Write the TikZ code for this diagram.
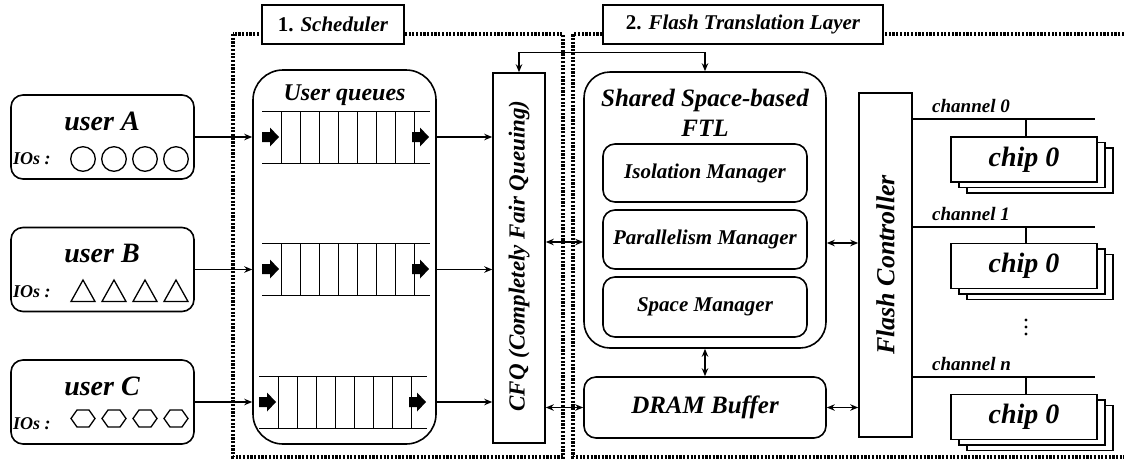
\documentclass[tikz,border=0pt]{standalone}
\usepackage{fontspec}
\setmainfont{Liberation Serif}
\usetikzlibrary{arrows.meta,calc}
\begin{document}
\begin{tikzpicture}[x=1pt,y=-1pt,
  rbox/.style={draw, line width=1.6pt, rounded corners=#1, inner sep=0pt},
  rbox/.default=11pt,
  sbox/.style={draw, line width=1.6pt, inner sep=0pt},
  lbl/.style={draw, fill=white, line width=1.6pt, inner sep=0pt, font=\fontsize{21}{24}\selectfont\bfseries},
  bi/.style={font=\fontsize{#1}{#1}\selectfont\bfseries\itshape, inner sep=0pt},
  arr/.style={-{Stealth[length=8pt,width=6.5pt]}, line width=1.3pt},
  darr/.style={{Stealth[length=8pt,width=6.5pt]}-{Stealth[length=8pt,width=6.5pt]}, line width=1.3pt},
  dotline/.style={line width=3.2pt, dash pattern=on 2.2pt off 1.5pt},
  qline/.style={line width=1pt},
  ioshape/.style={line width=1.3pt},
]
\useasboundingbox (0,0) rectangle (1124,459);

% dotted regions
\draw[dotline] (233,34) rectangle (563,457);
\draw[dotline] (1124,34) -- (573,34) -- (573,457) -- (1124,457);
\node[lbl, minimum width=142pt, minimum height=39pt] (lsch) at (333,24.5) {1. \textit{Scheduler}};
\node[lbl, minimum width=280pt, minimum height=39pt] (lftl) at (743,24.5) {2. \textit{Flash Translation Layer}};

% users
\foreach \n/\c in {A/137, B/269.5, C/402}{
  \node[rbox=12pt, minimum width=183pt, minimum height=84pt] (u\n) at (102.5,\c) {};
  \node[bi=28] (ut\n) at (102,\c-16) {user \n};
  \node[bi=18, anchor=west] (io\n) at (13,\c+22) {IOs :};
}
\foreach \x in {83,114,145,176}{
  \draw[ioshape] (\x,159) circle (12.3pt);
  \draw[ioshape] (\x-12,301.5) -- (\x+12,301.5) -- (\x,280) -- cycle;
  \draw[ioshape] (\x-12,418.5) -- (\x-6,410) -- (\x+6,410) -- (\x+12,418.5) -- (\x+6,427) -- (\x-6,427) -- cycle;
}

% user queues
\node[rbox=30pt, minimum width=183pt, minimum height=374pt] (uq) at (344.5,257) {};
\node[bi=24] (uqt) at (344.5,95) {User queues};
\foreach \c/\s in {137/0, 269/0, 402/-3}{
  \draw[qline] (262+\s,\c-26) -- (430+\s,\c-26);
  \draw[qline] (262+\s,\c+26) -- (430+\s,\c+26);
  \foreach \i in {0,...,7}{
    \draw[qline] (281+\s+\i*19,\c-26) -- (281+\s+\i*19,\c+26);
  }
  \foreach \L in {262,412}{
    \fill (\L+\s,\c-5) -- (\L+\s+8,\c-5) -- (\L+\s+8,\c-9.5) -- (\L+\s+17,\c) -- (\L+\s+8,\c+9.5) -- (\L+\s+8,\c+5) -- (\L+\s,\c+5) -- cycle;
  }
}

% CFQ
\node[sbox, minimum width=52pt, minimum height=370pt] (cfq) at (519,258) {};
\node[bi=23, rotate=90] (cfqt) at (519,256) {CFQ (Completely Fair Queuing)};

% user -> queue -> CFQ
\foreach \n/\c in {A/137, B/269.5, C/402}{
  \draw[arr] (u\n.east) -- (uq.west |- u\n.east);
  \draw[arr] (uq.east |- u\n.east) -- (cfq.west |- u\n.east);
}

% FTL
\node[rbox=26pt, minimum width=242pt, minimum height=276pt] (ftl) at (705,210) {};
\node[bi=25] (ftlt1) at (705,100) {Shared Space-based};
\node[bi=25] (ftlt2) at (705,128) {FTL};
\node[rbox=12pt, minimum width=204pt, minimum height=58pt] (iso) at (705,173) {};
\node[bi=21] at (iso) {Isolation Manager};
\node[rbox=12pt, minimum width=204pt, minimum height=59pt] (par) at (705,239.5) {};
\node[bi=21] at (par) {Parallelism Manager};
\node[rbox=12pt, minimum width=204pt, minimum height=60pt] (spc) at (705,307) {};
\node[bi=21] at (spc) {Space Manager};
\node[rbox=12pt, minimum width=242pt, minimum height=61pt] (dram) at (705,407.5) {};
\node[bi=25] at (dram) {DRAM Buffer};

% Flash controller
\node[sbox, minimum width=53pt, minimum height=344pt] (fc) at (885.5,265) {};
\node[bi=26, rotate=90] (fct) at (885.5,265) {Flash Controller};

% connections
\draw[darr] (cfq.north) -- ++(0,-20) -| (ftl.north);
\draw[darr] (cfq.east |- 0,242) -- (ftl.west |- 0,242);
\draw[darr] (cfq.east |- dram.west) -- (dram.west);
\draw[darr] (ftl.east |- 0,243) -- (fc.west |- 0,243);
\draw[darr] (dram.east) -- (fc.west |- dram.east);
\draw[darr] (ftl.south) -- (dram.north);

% channels
\foreach \k/\ly/\cy/\t in {0/119/159.5/0, 1/227/266/1, 2/377/417/n}{
  \coordinate (ch\k) at (1095,\ly);
  \draw[line width=1.5pt] (fc.east |- ch\k) -- (ch\k);
  \node[bi=19, anchor=south west] (cl\k) at (932,\ly-6) {channel \t};
  \node[sbox, fill=white, minimum width=146pt, minimum height=45pt] (cb\k) at (1024+16,\cy+11) {};
  \node[sbox, fill=white, minimum width=146pt, minimum height=45pt] (cm\k) at (1024+8,\cy+5.5) {};
  \node[sbox, fill=white, minimum width=146pt, minimum height=45pt] (cp\k) at (1024,\cy) {};
  \node[bi=28] at (cp\k) {chip 0};
  \draw[line width=1.3pt] (cp\k.north -| 1026,0) -- (1026,\ly);
}
\foreach \y in {320,327,334}{ \fill (1026,\y) circle (1.6pt); }

\end{tikzpicture}
\end{document}
